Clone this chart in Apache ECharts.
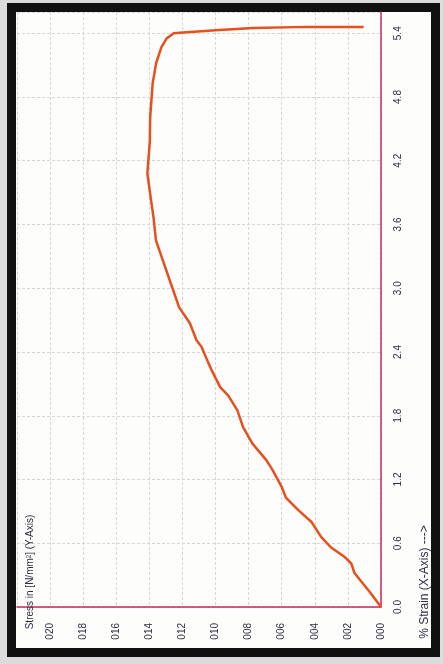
<!DOCTYPE html>
<html>
<head>
<meta charset="utf-8">
<script src="https://cdn.jsdelivr.net/npm/echarts@6/dist/echarts.min.js"></script>
<style>
html,body{margin:0;padding:0;width:443px;height:664px;overflow:hidden;background:#dcdcdc;}
#frame{position:absolute;left:7px;top:3px;width:433px;height:654px;box-sizing:border-box;border:9px solid #111;background:#fdfdfb;}
#chart{position:absolute;left:0;top:0;width:443px;height:664px;}
</style>
</head>
<body>
<div id="frame"></div>
<div id="chart"></div>
<script>
// Strain (%)
const strainValues = [0, 0.13, 0.25, 0.32, 0.41, 0.47, 0.56, 0.66, 0.80, 0.91, 1.03, 1.13, 1.29, 1.38, 1.54, 1.69, 1.85, 1.99, 2.07, 2.23, 2.30, 2.45, 2.51, 2.67, 2.82, 3.08, 3.26, 3.45, 3.67, 3.83, 4.08, 4.39, 4.61, 4.93, 5.12, 5.27, 5.35, 5.40, 5.41, 5.43, 5.45, 5.46, 5.46];
// Stress (N/mm²) at each strain
const stressValues = [0, 0.62, 1.24, 1.6, 1.8, 2.19, 3.02, 3.62, 4.2, 4.98, 5.75, 6.0, 6.56, 6.92, 7.78, 8.33, 8.68, 9.23, 9.72, 10.24, 10.44, 10.85, 11.15, 11.55, 12.2, 12.78, 13.18, 13.6, 13.75, 13.9, 14.12, 13.97, 13.95, 13.8, 13.59, 13.27, 12.96, 12.53, 11.75, 9.76, 7.7, 4.5, 1.05];
const stressTickLabels = ['000','002','004','006','008','010','012','014','016','018','020'];
const strainTickLabels = ['0.0','0.6','1.2','1.8','2.4','3.0','3.6','4.2','4.8','5.4'];
const stressTitle = 'Stress in [N/mm\u00B2] (Y-Axis)';
const strainTitle = '% Strain (X-Axis) --->';

const FONT = '"Liberation Sans Narrow", "Liberation Sans", Arial, sans-serif';
const LABEL_COLOR = '#2b2d42';
const AXIS_RED = '#c8285a';

const chart = echarts.init(document.getElementById('chart'), null, {renderer: 'canvas'});
const points = strainValues.map((s, i) => [stressValues[i], s]);

chart.setOption({
  animation: false,
  backgroundColor: 'transparent',
  grid: {left: 17, right: 62, top: 12, bottom: 57, containLabel: false},
  xAxis: {
    type: 'value', inverse: true, min: 0, max: 22, interval: 2, position: 'bottom',
    axisLine: {show: true, lineStyle: {color: AXIS_RED, width: 1.5}},
    axisTick: {show: false},
    axisLabel: {
      rotate: 90, margin: 16, fontSize: 10, fontFamily: FONT, color: LABEL_COLOR,
      formatter: v => { const i = Math.round(v / 2); return (v <= 20.01 && Math.abs(v - i * 2) < 0.01) ? stressTickLabels[i] : ''; }
    },
    splitLine: {show: true, lineStyle: {color: '#dad6d6', width: 1, type: [3, 2]}}
  },
  yAxis: {
    type: 'value', min: 0, max: 5.6, interval: 0.6, position: 'right',
    axisLine: {show: true, lineStyle: {color: AXIS_RED, width: 1.5}},
    axisTick: {show: false},
    axisLabel: {
      rotate: 90, margin: 12, fontSize: 10, fontFamily: FONT, color: LABEL_COLOR,
      formatter: v => { const i = Math.round(v / 0.6); return (v <= 5.41 && Math.abs(v - i * 0.6) < 0.01) ? strainTickLabels[i] : ''; }
    },
    splitLine: {show: true, lineStyle: {color: '#dad6d6', width: 1, type: [3, 2]}}
  },
  graphic: [
    {type: 'text', x: 30, y: 572, rotation: Math.PI / 2, z: 100,
     style: {text: stressTitle, fontSize: 10, fontFamily: FONT, fill: LABEL_COLOR, align: 'center', verticalAlign: 'middle'}},
    {type: 'text', x: 425, y: 582, rotation: Math.PI / 2, z: 100,
     style: {text: strainTitle, fontSize: 12, fontFamily: FONT, fill: LABEL_COLOR, align: 'center', verticalAlign: 'middle'}}
  ],
  series: [{
    type: 'line', data: points, showSymbol: false, smooth: false,
    lineStyle: {color: '#e4501e', width: 2.5}
  }]
});
</script>
</body>
</html>
